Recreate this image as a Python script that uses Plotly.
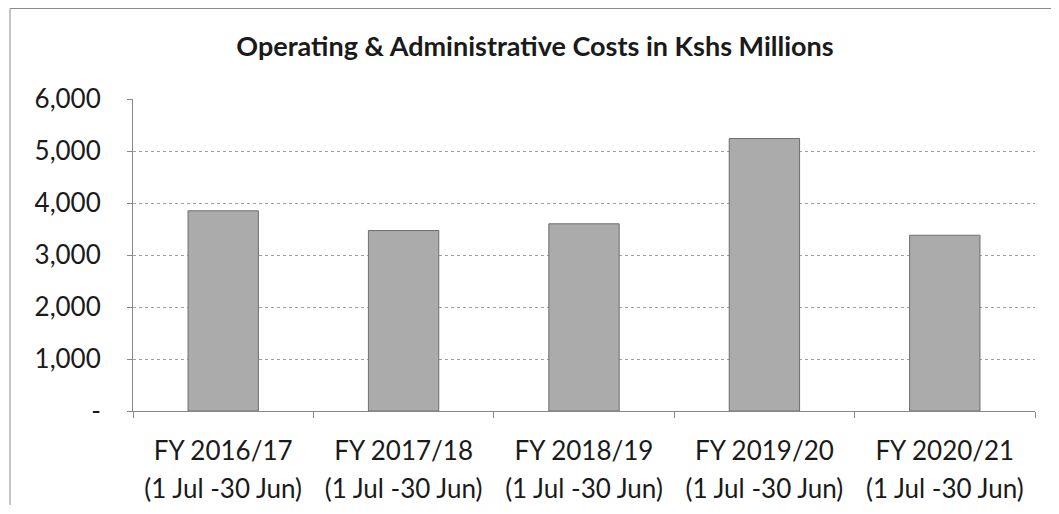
import plotly.graph_objects as go

categories = [
    "FY 2016/17<br>(1 Jul -30 Jun)",
    "FY 2017/18<br>(1 Jul -30 Jun)",
    "FY 2018/19<br>(1 Jul -30 Jun)",
    "FY 2019/20<br>(1 Jul -30 Jun)",
    "FY 2020/21<br>(1 Jul -30 Jun)",
]
costs = [3850, 3470, 3600, 5240, 3380]
y_tickvals = [0, 1000, 2000, 3000, 4000, 5000, 6000]
y_ticktext = ["-", "1,000", "2,000", "3,000", "4,000", "5,000", "6,000"]
title_text = "Operating & Administrative Costs in Kshs Millions"

W, H = 1043, 498
ML, MR, MT, MB = 125, 16, 91, 95
pw = W - ML - MR
ph = H - MT - MB


def px_x(v):
    return (v - ML) / pw


def px_y(v):
    return (H - MB - v) / ph


# x tick labels drawn at 26px glyph size with a larger line pitch
x_ticktext = [
    "<br>".join("<span style='font-size:26px'>%s</span>" % part
                for part in c.split("<br>"))
    for c in categories
]

fig = go.Figure(
    go.Bar(
        x=categories,
        y=costs,
        marker=dict(color="#ababab", line=dict(color="#6e6e6e", width=1)),
    )
)

fig.update_layout(
    width=W,
    height=H,
    margin=dict(l=ML, r=MR, t=MT, b=MB),
    paper_bgcolor="white",
    plot_bgcolor="white",
    bargap=0.61,
    showlegend=False,
    font=dict(family="Lato", color="#1a1a1a"),
    title=dict(
        text=title_text,
        xref="container",
        x=527 / W,
        xanchor="center",
        y=1 - 39 / H,
        yanchor="middle",
        font=dict(family="Lato", size=27, color="#1a1a1a", weight="bold"),
    ),
    shapes=[
        dict(type="line", xref="paper", yref="paper",
             x0=px_x(2), x1=px_x(2), y0=px_y(H - 1), y1=px_y(0.5),
             line=dict(color="#8a8a8a", width=1)),
        dict(type="line", xref="paper", yref="paper",
             x0=px_x(2), x1=px_x(W), y0=px_y(0.5), y1=px_y(0.5),
             line=dict(color="#8a8a8a", width=1)),
    ],
)

fig.update_xaxes(
    tickvals=categories,
    ticktext=x_ticktext,
    tickfont=dict(size=29, family="Lato", color="#1a1a1a"),
    ticks="outside",
    tickson="boundaries",
    ticklen=6,
    tickcolor="#888",
    showline=True,
    linecolor="#888",
    linewidth=1,
    showgrid=False,
    ticklabelstandoff=13,
    automargin=False,
)
fig.update_yaxes(
    range=[0, 6000],
    tickvals=y_tickvals,
    ticktext=y_ticktext,
    tickfont=dict(size=26, family="Lato", color="#1a1a1a"),
    ticks="outside",
    ticklen=5,
    tickcolor="#888",
    showline=True,
    linecolor="#888",
    linewidth=1,
    showgrid=True,
    gridcolor="#a0a0a0",
    griddash="dot",
    gridwidth=1,
    zeroline=False,
    ticklabelstandoff=21,
    automargin=False,
)

fig.write_html("out.html")
